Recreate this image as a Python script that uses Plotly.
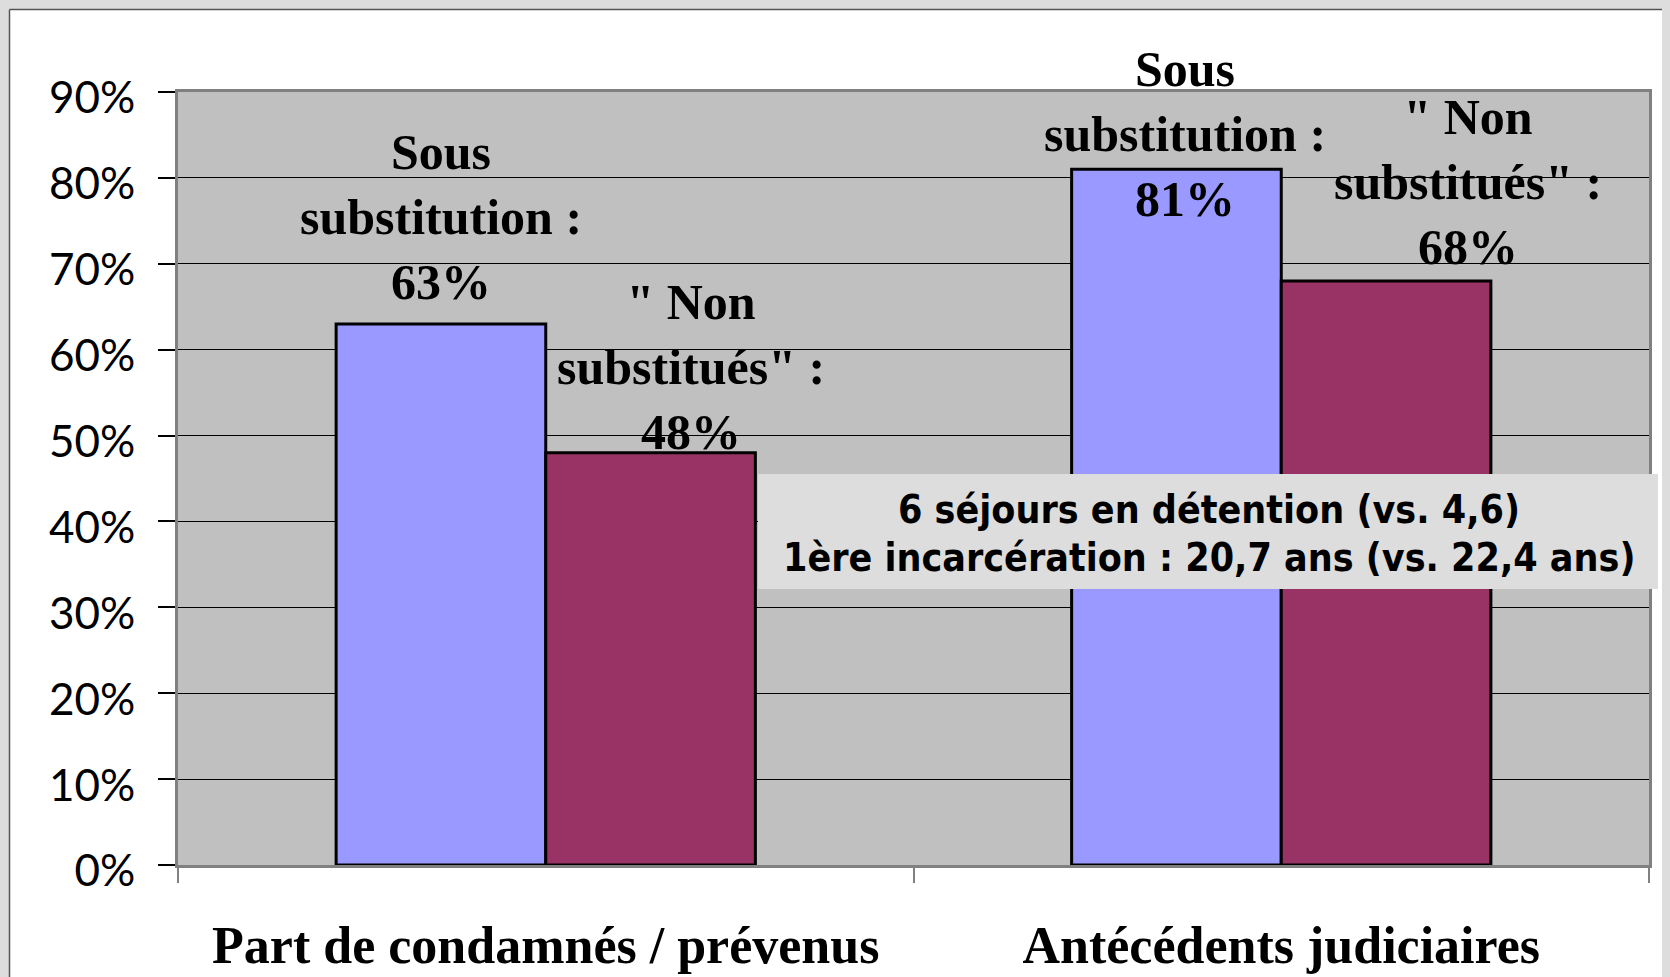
import plotly.graph_objects as go

categories = ["Part de condamnés / prévenus", "Antécédents judiciaires"]
series_names = ["Sous substitution", "Non substitués"]
sous_values = [63, 81]
non_values = [48, 68]
label_sous = ["Sous<br>substitution :<br>63%", "Sous<br>substitution :<br>81%"]
label_non = ['" Non<br>substitués" :<br>48%', '" Non<br>substitués" :<br>68%']
y_tickvals = [0, 10, 20, 30, 40, 50, 60, 70, 80, 90]
y_ticktext = ["0%", "10%", "20%", "30%", "40%", "50%", "60%", "70%", "80%", "90%"]
box_lines = ["6 séjours en détention (vs. 4,6)", "1ère incarcération : 20,7 ans (vs. 22,4 ans)"]

OFF = 8  # default body margin of the html page
W, H = 1670 - OFF, 977 - OFF
ML, MR, MT, MB = 170, 21, 84, 112
PW, PH = W - ML - MR, H - MT - MB


def px(x):
    """page x pixel -> paper fraction"""
    return (x - OFF - ML) / PW


def py(y):
    """page y pixel -> paper fraction"""
    return (H - MB - (y - OFF)) / PH


BLUE = "#9999FF"
MAROON = "#993366"

fig = go.Figure()
fig.add_trace(go.Bar(x=categories, y=sous_values, name=series_names[0],
                     marker=dict(color=BLUE, line=dict(color="black", width=3))))
fig.add_trace(go.Bar(x=categories, y=non_values, name=series_names[1],
                     marker=dict(color=MAROON, line=dict(color="black", width=3))))

label_font = dict(family="Liberation Serif", size=50, color="black")
# per-label offsets (pixels) relative to bar centre / bar top
sous_style = [dict(xshift=-105, yshift=107), dict(xshift=-96, yshift=35)]
non_style = [dict(xshift=145, yshift=86), dict(xshift=187, yshift=99)]

annotations = []
for i, cat in enumerate(categories):
    annotations.append(dict(x=cat, y=sous_values[i], xref="x", yref="y",
                            text="<b>" + label_sous[i] + "</b>", showarrow=False,
                            xanchor="center", yanchor="middle", align="center",
                            font=label_font, **sous_style[i]))
    annotations.append(dict(x=cat, y=non_values[i], xref="x", yref="y",
                            text="<b>" + label_non[i] + "</b>", showarrow=False,
                            xanchor="center", yanchor="middle", align="center",
                            font=label_font, **non_style[i]))

box_font = dict(family="DejaVu Sans Condensed", size=39, color="black")
for line, yy in zip(box_lines, [509, 557]):
    annotations.append(dict(x=px(1209), y=py(yy), xref="paper", yref="paper",
                            text="<b>" + line + "</b>", showarrow=False,
                            xanchor="center", yanchor="middle", align="center",
                            font=box_font))

shapes = [
    # outer light-gray frame (top and left strips) and dark border
    dict(type="rect", xref="paper", yref="paper", x0=px(0), x1=px(1680), y0=py(0), y1=py(9),
         fillcolor="#DDDDDD", line=dict(width=0), layer="below"),
    dict(type="rect", xref="paper", yref="paper", x0=px(0), x1=px(9), y0=py(0), y1=py(990),
         fillcolor="#DDDDDD", line=dict(width=0), layer="below"),
    dict(type="line", xref="paper", yref="paper", x0=px(9.5), x1=px(1680), y0=py(9.5), y1=py(9.5),
         line=dict(color="#555555", width=1.5)),
    dict(type="line", xref="paper", yref="paper", x0=px(9.5), x1=px(9.5), y0=py(9.5), y1=py(990),
         line=dict(color="#555555", width=1.5)),
    # info box
    dict(type="rect", xref="paper", yref="paper", x0=px(758), x1=px(1658), y0=py(589), y1=py(474),
         fillcolor="#DDDDDD", line=dict(width=0), layer="above"),
]

fig.update_layout(
    width=W, height=H,
    margin=dict(l=ML, r=MR, t=MT, b=MB, autoexpand=False),
    paper_bgcolor="white", plot_bgcolor="#C0C0C0",
    barmode="group", bargap=0.43, bargroupgap=0,
    showlegend=False,
    annotations=annotations, shapes=shapes,
    xaxis=dict(showline=True, linecolor="#808080", linewidth=3, mirror=True,
               ticks="outside", tickson="boundaries", ticklen=15, tickcolor="#808080", tickwidth=1.5,
               tickfont=dict(family="Liberation Serif", size=52, color="black"),
               tickprefix="<b>", ticksuffix="</b>",
               ticklabelstandoff=33, showgrid=False),
    yaxis=dict(range=[0, 90], tickvals=y_tickvals, ticktext=y_ticktext,
               showline=True, linecolor="#808080", linewidth=3, mirror=True,
               ticks="outside", ticklen=17, tickcolor="black", tickwidth=1.5,
               showgrid=True, gridcolor="black", gridwidth=1.2, zeroline=False,
               tickfont=dict(family="Lato", size=44, color="black"),
               ticklabelstandoff=14, ticklabelshift=6),
)

fig.write_html("out.html", post_script="document.body.style.background='#DDDDDD';")
